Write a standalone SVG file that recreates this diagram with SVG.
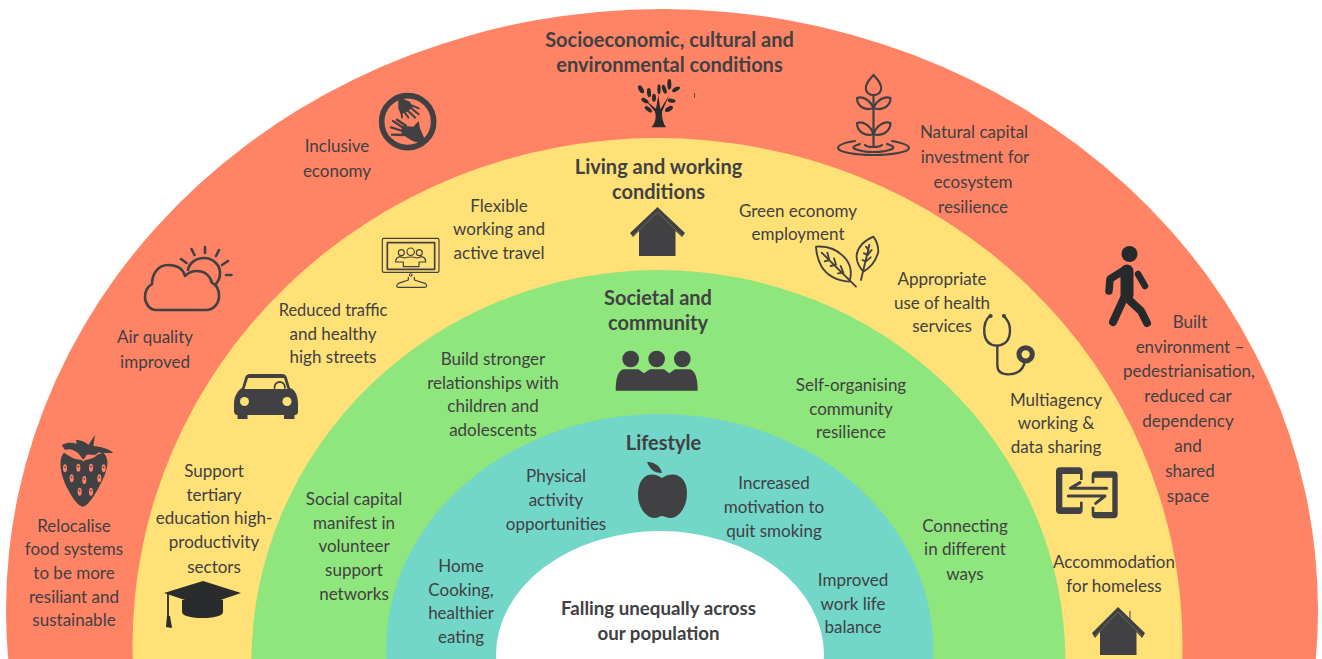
<svg xmlns="http://www.w3.org/2000/svg" width="1322" height="659" viewBox="0 0 1322 659">
<style>
text{font-family:"Lato","Noto Sans",sans-serif;font-size:17px;fill:#414042;text-anchor:middle;transform:translateY(.5px)}
.b{font-weight:700;font-size:20px;transform:translateY(1.5px)}
.p{font-weight:700;font-size:18.7px;transform:translateY(1px)}
.f{fill:#414042}
.d{fill:#2a2b2c}
.s{fill:none;stroke:#414042;stroke-linecap:round;stroke-linejoin:round}
</style>
<rect width="1322" height="659" fill="#fff"/>
<g id="bands">
<ellipse cx="662" cy="610" rx="656" ry="601" fill="#ff8465"/>
<ellipse cx="657.5" cy="645" rx="525" ry="507" fill="#ffe177"/>
<ellipse cx="658.4" cy="662" rx="407" ry="392" fill="#8fe67d"/>
<ellipse cx="659.7" cy="649" rx="273.5" ry="235" fill="#72d6c9"/>
<ellipse cx="660" cy="655" rx="164" ry="124" fill="#fff"/>
</g>
<g id="connectors"/>
<g id="socioeconomic"><text class="b" x="669.5" y="45">Socioeconomic, cultural and</text><text class="b" x="669.5" y="70">environmental conditions</text>
<g transform="translate(620 70) scale(.3333)"><path class="d" d="M94 172C106 160 110 140 105 125L78 92L108 116L115 75L121 118L148 75L126 125C125 145 130 160 138 172Z"/><g class="d"><ellipse cx="63" cy="58" rx="7" ry="13" transform="rotate(-30 63 58)"/><ellipse cx="87" cy="68" rx="6" ry="14" transform="rotate(-5 87 68)"/><ellipse cx="102" cy="83" rx="6" ry="12"/><ellipse cx="117" cy="58" rx="5" ry="15"/><ellipse cx="133" cy="58" rx="6" ry="14" transform="rotate(-20 133 58)"/><ellipse cx="148" cy="43" rx="6" ry="16"/><ellipse cx="168" cy="58" rx="13" ry="6" transform="rotate(-30 168 58)"/><ellipse cx="75" cy="92" rx="12" ry="6" transform="rotate(30 75 92)"/><ellipse cx="85" cy="118" rx="13" ry="6" transform="rotate(40 85 118)"/><ellipse cx="155" cy="92" rx="12" ry="6" transform="rotate(10 155 92)"/><ellipse cx="147" cy="117" rx="13" ry="7" transform="rotate(-30 147 117)"/></g></g>
<path d="M694.5 93V98" stroke="#414042" stroke-width=".8" fill="none"/></g>
<g id="inclusive"><text x="337" y="151">Inclusive</text><text x="337" y="176">economy</text>
<g transform="translate(370 85) scale(.3333)"><circle cx="113" cy="110" r="78" fill="none" stroke="#414042" stroke-width="17"/><path class="f" d="M85 36L120 50L128 68L108 82L92 88L85 70Z"/><path class="s" stroke-width="6" d="M118 58L146 70M122 68L146 88M112 76L136 98M104 82L115 97M95 80L96 97"/><path class="f" d="M160 178L128 168L95 148L95 122L130 125L146 108L150 130L165 165Z"/><path class="s" stroke-width="7" d="M100 150L66 149M98 138L63 127M100 128L69 108M108 122L81 104"/></g></g>
<g id="natural-capital"><text x="974" y="137">Natural capital</text><text x="975" y="162">investment for</text><text x="973" y="187">ecosystem</text><text x="973" y="212">resilience</text>
<g class="s" stroke-width="2.2"><path d="M873.5 75C868 81 865 85 866 90C867 93 870 95 873.5 95C877 95 880 93 881 90C882 85 879 81 873.5 75Z"/><path d="M873.5 95V147"/><path d="M857 98C863 96 870 100 873.5 108C866 111 857 107 857 98Z"/><path d="M890.5 98C884 96 877 100 873.5 108C881 111 890.5 107 890.5 98Z"/><path d="M857 123C863 121 870 125 873.5 134C866 137 857 132 857 123Z"/><path d="M890.5 123C884 121 877 125 873.5 134C881 137 890.5 132 890.5 123Z"/><path d="M855 141C843 143 838 145 838 148C838 152 855 155 873.5 155C892 155 909 152 909 148C909 145 903 143 892 141"/><path d="M860 144C853 146 852 148 855 149C860 151 866 152 873 152C880 152 888 151 892 149C895 147 893 146 887 144"/><path d="M865 145C867 147 870 147 873 147C878 147 880 147 882 145"/></g></g>
<g id="air-quality"><text x="155" y="342">Air quality</text><text x="155" y="367">improved</text>
<g class="s" stroke-width="2.6"><path d="M156 310H206C214 310 219 303 219 296C219 289 216 284 212 283C210 275 204 271 197 271C192 271 187 274 185 276C183 268 176 265 168 265C158 265 152 274 152 284C147 287 145 292 145 297C145 304 150 310 156 310Z"/><path d="M188 270C189 263 196 258 204 258C213 258 220 265 220 273C220 278 218 282 215 285"/><path d="M205 247V253M191.5 249L194.5 255M219 250L216 256M228 261L222 265M231.5 275H226M181 259L186.5 263"/></g></g>
<g id="built-environment"><text x="1190" y="327">Built</text><text x="1190" y="352">environment –</text><text x="1189" y="376">pedestrianisation,</text><text x="1188" y="401">reduced car</text><text x="1188" y="426">dependency</text><text x="1188" y="451">and</text><text x="1190" y="476">shared</text><text x="1188" y="501">space</text>
<circle cx="1129.5" cy="254" r="8" fill="#272a2c"/><g fill="none" stroke="#272a2c" stroke-linecap="round" stroke-linejoin="round"><path d="M1126 269L1110 279L1109 291" stroke-width="7.5"/><path d="M1127 271V295" stroke-width="13"/><path d="M1138 274L1145 286" stroke-width="6.5"/><path d="M1124 298L1113 322" stroke-width="8"/><path d="M1127 298L1141 311L1147 323" stroke-width="8"/></g></g>
<g id="strawberry-food"><text x="74" y="531">Relocalise</text><text x="74" y="554">food systems</text><text x="74" y="578">to be more</text><text x="74" y="602">resiliant and</text><text x="74" y="625">sustainable</text>
<g transform="translate(40 430) scale(.3333)"><path class="f" d="M72 68C55 85 58 130 85 180C100 210 118 230 128 230C140 230 160 205 180 165C205 120 210 85 190 68C175 70 160 90 130 90C100 90 85 75 72 68Z"/><path class="f" d="M65 45C85 35 100 38 110 42L108 30C125 30 140 38 145 45L165 15L160 48C180 50 205 55 220 68C200 70 185 68 175 68L180 80C160 75 150 72 140 75L130 90L115 70C100 60 90 55 75 60Z"/><path d="M75 60C85 70 100 85 115 80L130 92L145 80C160 80 170 75 178 68" fill="none" stroke="#ff8465" stroke-width="4"/><g fill="#ff8465"><ellipse cx="75" cy="115" rx="6" ry="12"/><ellipse cx="115" cy="113" rx="6" ry="12"/><ellipse cx="153" cy="113" rx="6" ry="12"/><ellipse cx="191" cy="115" rx="6" ry="12"/><ellipse cx="95" cy="145" rx="6" ry="12"/><ellipse cx="133" cy="150" rx="6" ry="12"/><ellipse cx="178" cy="145" rx="6" ry="12"/><ellipse cx="119" cy="185" rx="6" ry="12"/><ellipse cx="153" cy="185" rx="6" ry="12"/></g><g class="f"><circle cx="75" cy="112" r="2.5"/><circle cx="115" cy="110" r="2.5"/><circle cx="153" cy="110" r="2.5"/><circle cx="191" cy="112" r="2.5"/><circle cx="95" cy="142" r="2.5"/><circle cx="133" cy="147" r="2.5"/><circle cx="178" cy="142" r="2.5"/><circle cx="119" cy="182" r="2.5"/><circle cx="153" cy="182" r="2.5"/></g></g></g>
<g id="living-working"><text class="b" x="658.5" y="172">Living and working</text><text class="b" x="658.5" y="197">conditions</text>
<path class="f" d="M657.5 207L685 233L682 237L675.5 231V256H639V231L633 237L630 233Z"/><path d="M633 236L657.5 212L682 236" fill="none" stroke="#8d8a5c" stroke-width=".6"/></g>
<g id="flexible"><text x="499" y="211">Flexible</text><text x="499" y="234">working and</text><text x="499" y="258">active travel</text>
<g transform="translate(375 230) scale(.3333)" class="s"><rect x="22" y="25" width="170" height="102" rx="5" stroke-width="3.5"/><rect x="37" y="38" width="142" height="80" stroke-width="5"/><circle cx="107" cy="135" r="4" stroke-width="3"/><path d="M100 142V150L70 160Q60 170 70 172H150Q160 168 150 160L118 150V142" stroke-width="3.5"/><g stroke-width="3.5"><circle cx="79" cy="68" r="9"/><circle cx="107" cy="65" r="11"/><circle cx="133" cy="68" r="9"/><path d="M62 96Q62 82 75 80L88 84Q107 78 126 84L140 80Q152 82 152 96H132V110H85V96Z"/></g></g></g>
<g id="green-economy"><text x="798" y="216">Green economy</text><text x="798" y="239">employment</text>
<g transform="translate(810 230) scale(.3333)" class="s" stroke-width="5.5"><path d="M18 50Q75 45 110 90Q130 120 118 155Q60 150 35 110Q20 85 18 50Z"/><path d="M35 68L138 170M44 94L58 90M52 68L58 90M62 108L78 104M72 85L78 104M84 130L100 128M92 108L100 128"/><path d="M190 20Q145 40 140 75Q138 100 160 125Q195 105 205 65Q205 40 190 20Z"/><path d="M178 45L153 150M168 50L176 60M162 70L172 76M185 60L172 76M158 90L167 95M182 82L167 95"/></g></g>
<g id="reduced-traffic"><text x="333" y="315" style="font-size:16.4px">Reduced traffic</text><text x="333" y="339">and healthy</text><text x="333" y="362">high streets</text>
<path class="f" d="M234 404C234 394 240 389 242 388L245 378Q246 374 250 374H282Q286 374 287 378L290 388C294 389 298 394 298 404V412Q298 415 294.500 415V419H284V415H247.500V419H237.500V415Q234 415 234 411Z"/><path fill="#ffe177" d="M244.500 389L248 378H284L287.500 389Z"/><path class="s" stroke-width="1.800" d="M274.500 388C274.500 380 285 380 285 388"/><circle cx="244.500" cy="401.500" r="4.500" fill="#ffe177"/><circle cx="287" cy="401.500" r="4.500" fill="#ffe177"/></g>
<g id="appropriate"><text x="942" y="284">Appropriate</text><text x="942" y="308">use of health</text><text x="942" y="331">services</text>
<g transform="translate(975 305) scale(.3333)"><g class="s" stroke-width="7"><path d="M45 32Q25 50 28 85Q32 120 65 122Q105 120 105 75Q105 50 85 32"/><path d="M67 122V180Q67 208 100 208Q145 208 150 165"/></g><circle cx="47" cy="33" r="6" class="f"/><circle cx="87" cy="33" r="6" class="f"/><circle cx="152" cy="148" r="20" fill="#ffe177" stroke="#414042" stroke-width="15"/></g></g>
<g id="multiagency"><text x="1056" y="405">Multiagency</text><text x="1056" y="428">working &amp;</text><text x="1056" y="452">data sharing</text>
<g transform="translate(1045 460) scale(.3333)"><path class="f" d="M45 22H101Q113 22 113 34V60H105V42H52V142H105V125H113V150Q113 162 101 162H45Q33 162 33 150V34Q33 22 45 22Z"/><path class="f" d="M152 34H206Q218 34 218 46V163Q218 175 206 175H152Q140 175 140 163V140H148V156H202V53H148V70H140V46Q140 34 152 34Z"/><path class="s" stroke-width="9" d="M105 68L76 85H185M70 108H180L152 130"/></g></g>
<g id="accommodation"><text x="1114" y="567">Accommodation</text><text x="1114" y="591">for homeless</text>
<path class="f" d="M1118 607L1145 633L1142 638L1136.500 632V655H1100V632L1095 638L1092 633Z"/><path d="M1130 620V611" stroke="#414042"/><path d="M1095 636L1118 612L1142 636" fill="none" stroke="#8d8a5c" stroke-width=".6"/></g>
<g id="support-tertiary"><text x="214" y="476">Support</text><text x="214" y="500">tertiary</text><text x="214" y="523">education high-</text><text x="214" y="547">productivity</text><text x="214" y="572">sectors</text>
<path class="d" d="M182 600H223V612C223 620 182 620 182 612Z"/><path class="d" d="M164 593L203 581L241 593L203 606Z"/><path d="M168 593V618" stroke="#2a2b2c" stroke-width="1.800"/><path class="d" d="M167 616H170L172 628L166 627Z"/></g>
<g id="societal"><text class="b" x="658" y="303">Societal and</text><text class="b" x="658" y="328">community</text>
<g transform="translate(600 340) scale(.3333)" class="f"><circle cx="92" cy="57" r="25"/><circle cx="170" cy="57" r="25"/><circle cx="247" cy="57" r="25"/><path d="M47 152Q47 95 70 88H115L132 100L150 88H192L208 100L225 88H270Q293 95 293 152Z"/></g></g>
<g id="build-stronger"><text x="493" y="364">Build stronger</text><text x="493" y="388">relationships with</text><text x="493" y="411">children and</text><text x="493" y="435">adolescents</text></g>
<g id="self-organising"><text x="851" y="390">Self-organising</text><text x="851" y="414">community</text><text x="851" y="437">resilience</text></g>
<g id="social-capital"><text x="354" y="504">Social capital</text><text x="354" y="528">manifest in</text><text x="354" y="551">volunteer</text><text x="354" y="575">support</text><text x="354" y="599">networks</text></g>
<g id="connecting"><text x="965" y="531">Connecting</text><text x="965" y="554">in different</text><text x="965" y="579">ways</text></g>
<g id="lifestyle"><text class="b" x="663.5" y="448">Lifestyle</text>
<path class="f" d="M662 478C650 470 638 476 638 495C638 508 647 518 654 518C658 518 660 516 662 516C664 516 667 518 671 518C678 518 687 508 687 493C687 476 674 470 662 478Z"/><path class="f" d="M647 462C652 462 660 464 662 473C655 473 650 470 647 462Z"/></g>
<g id="physical"><text x="556" y="481">Physical</text><text x="556" y="505">activity</text><text x="556" y="529">opportunities</text></g>
<g id="increased"><text x="774" y="488">Increased</text><text x="774" y="512">motivation to</text><text x="774" y="536">quit smoking</text></g>
<g id="home-cooking"><text x="461" y="571">Home</text><text x="461" y="595">Cooking,</text><text x="461" y="618">healthier</text><text x="461" y="642">eating</text></g>
<g id="improved"><text x="853" y="585">Improved</text><text x="853" y="609">work life</text><text x="853" y="632">balance</text></g>
<g id="population"><text class="p" x="658.5" y="614">Falling unequally across</text><text class="p" x="658.5" y="639">our population</text></g>
</svg>
